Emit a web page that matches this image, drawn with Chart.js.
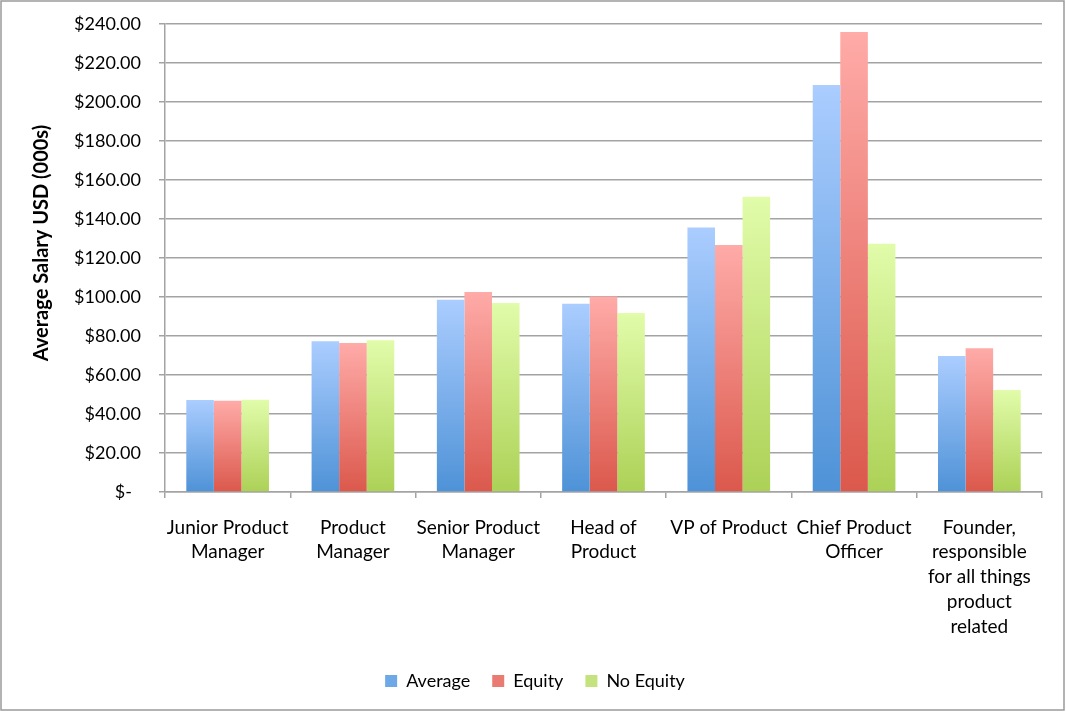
<!DOCTYPE html>
<html>
<head>
<meta charset="utf-8">
<script src="https://cdn.jsdelivr.net/npm/chart.js@4.4.0/dist/chart.umd.min.js"></script>
<style>
  html, body { margin: 0; padding: 0; background: #fff; }
  #wrap { width: 1066px; height: 712px; position: relative; }
</style>
</head>
<body>
<div id="wrap"><canvas id="c" width="1066" height="712"></canvas></div>
<script>
const categories = [
  ["Junior Product", "Manager"],
  ["Product", "Manager"],
  ["Senior Product", "Manager"],
  ["Head of", "Product"],
  ["VP of Product"],
  ["Chief Product", "Officer"],
  ["Founder,", "responsible", "for all things", "product", "related"]
];
const seriesNames = ["Average", "Equity", "No Equity"];
const averageValues = [47.2, 77.3, 98.6, 96.6, 135.7, 208.7, 69.7];
const equityValues = [46.8, 76.4, 102.6, 100.2, 126.7, 235.9, 73.7];
const noEquityValues = [47.3, 77.8, 96.9, 91.8, 151.4, 127.3, 52.3];
const yTickValues = [0, 20, 40, 60, 80, 100, 120, 140, 160, 180, 200, 220, 240];

const gradStops = [
  ["#abcdff", "#4e92d7"],
  ["#ffaba8", "#db584c"],
  ["#e1fcaa", "#acd156"]
];
const legendColors = ["#6fa8e6", "#ea7b72", "#c4e37e"];

function barGradient(si) {
  return function (ctx) {
    const chart = ctx.chart;
    if (!chart.chartArea || ctx.type !== 'data') return gradStops[si][1];
    const ys = chart.scales.y;
    const top = ys.getPixelForValue(ctx.raw);
    const base = ys.getPixelForValue(0);
    if (!isFinite(top) || !isFinite(base) || Math.abs(base - top) < 1) return gradStops[si][1];
    const g = chart.ctx.createLinearGradient(0, top, 0, base);
    g.addColorStop(0, gradStops[si][0]);
    g.addColorStop(1, gradStops[si][1]);
    return g;
  };
}

const FONT = "Lato, 'Open Sans', sans-serif";
const gridColor = "#a3a3a3";
const GAP = '\u2002\u2002';

const borderPlugin = {
  id: 'outerBorder',
  beforeDraw(chart) {
    const c = chart.ctx;
    c.save();
    c.fillStyle = '#ffffff';
    c.fillRect(0, 0, chart.width, chart.height);
    c.restore();
  },
  afterDraw(chart) {
    const c = chart.ctx;
    c.save();
    c.strokeStyle = '#9a9a9a';
    c.lineWidth = 1.5;
    c.strokeRect(1, 1, chart.width - 3, chart.height - 3);
    c.restore();
  }
};

// centre the legend on the full canvas width rather than the padded area
const legendShift = {
  id: 'legendShift',
  afterUpdate(chart) {
    const lg = chart.legend;
    if (!lg) return;
    lg.left += 14;
    lg.right += 14;
    if (lg.adjustHitBoxes) lg.adjustHitBoxes();
  }
};

const allSeries = [averageValues, equityValues, noEquityValues];

new Chart(document.getElementById('c'), {
  type: 'bar',
  data: {
    labels: categories,
    datasets: allSeries.map((vals, i) => ({
      label: seriesNames[i],
      data: vals,
      backgroundColor: barGradient(i),
      borderWidth: 0,
      categoryPercentage: 0.66,
      barPercentage: 1.0
    }))
  },
  options: {
    responsive: false,
    animation: false,
    devicePixelRatio: 1,
    layout: { padding: { left: 0, right: 24, top: 24, bottom: 12 } },
    plugins: {
      tooltip: { enabled: false },
      legend: {
        position: 'bottom',
        labels: {
          font: { family: FONT, size: 18 },
          color: '#000',
          boxWidth: 12,
          boxHeight: 12,
          padding: 22,
          generateLabels(chart) {
            return chart.data.datasets.map((ds, i) => ({
              text: ds.label,
              fillStyle: legendColors[i],
              strokeStyle: legendColors[i],
              lineWidth: 0,
              hidden: false,
              datasetIndex: i,
              fontColor: '#000'
            }));
          }
        }
      }
    },
    scales: {
      x: {
        offset: true,
        grid: {
          offset: true,
          drawOnChartArea: false,
          drawTicks: true,
          tickLength: 6,
          color: gridColor,
          lineWidth: 1.5
        },
        border: { color: gridColor, width: 1.5 },
        ticks: {
          font: { family: FONT, size: 19, lineHeight: 1.31 },
          color: '#000',
          maxRotation: 0,
          minRotation: 0,
          autoSkip: false,
          padding: 17
        },
        afterFit(scale) { scale.height = 158; }
      },
      y: {
        min: 0,
        max: 240,
        afterBuildTicks(scale) { scale.ticks = yTickValues.map(v => ({ value: v })); },
        grid: {
          color: gridColor,
          lineWidth: 1.5,
          tickLength: 6
        },
        border: { color: gridColor, width: 1.5 },
        ticks: {
          font: { family: FONT, size: 18 },
          color: '#000',
          padding: 0,
          callback(v) { return v === 0 ? '$-' + GAP + '\u2002' : '$' + Number(v).toFixed(2) + GAP; }
        },
        title: {
          display: true,
          text: '\u2002\u2002\u2002Average Salary USD (000s)',
          font: { family: FONT, size: 20, weight: 'bold' },
          color: '#000',
          padding: { top: 30, bottom: 0 }
        },
        afterFit(scale) { scale.width = 165; }
      }
    }
  },
  plugins: [borderPlugin, legendShift]
});
</script>
</body>
</html>
